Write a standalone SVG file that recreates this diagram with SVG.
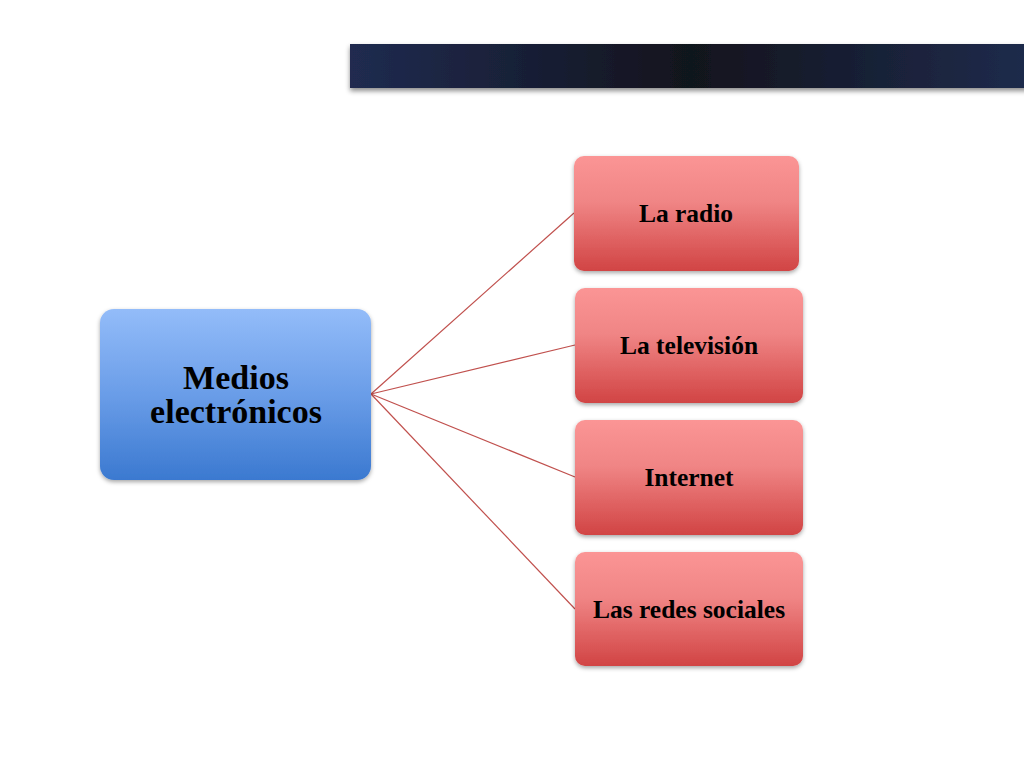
<svg xmlns="http://www.w3.org/2000/svg" width="1024" height="768" viewBox="0 0 1024 768">
<defs>
<linearGradient id="bar" x1="0" y1="0" x2="1" y2="0">
<stop offset="0" stop-color="#202b50"/>
<stop offset="0.5" stop-color="#11141d"/>
<stop offset="1" stop-color="#1f2b4c"/>
</linearGradient>
<linearGradient id="blue" x1="0" y1="0" x2="0" y2="1">
<stop offset="0" stop-color="#93bcf9"/>
<stop offset="0.5" stop-color="#6a9de8"/>
<stop offset="1" stop-color="#3b79d0"/>
</linearGradient>
<linearGradient id="red" x1="0" y1="0" x2="0" y2="1">
<stop offset="0" stop-color="#fb9595"/>
<stop offset="0.4" stop-color="#f08585"/>
<stop offset="1" stop-color="#d14444"/>
</linearGradient>
<filter id="sh" x="-10%" y="-10%" width="120%" height="130%">
<feDropShadow dx="0" dy="2" stdDeviation="2" flood-color="#000" flood-opacity="0.35"/>
</filter>
<filter id="barsh" x="-5%" y="-20%" width="110%" height="160%">
<feDropShadow dx="0" dy="3" stdDeviation="2.5" flood-color="#000" flood-opacity="0.45"/>
</filter>
</defs>
<style>
.t{font-family:"Liberation Serif","Times New Roman",serif;font-weight:bold;fill:#000;text-anchor:middle}
.s{font-size:25.5px}
.b{font-size:34px}
.c{stroke:#c0504d;stroke-width:1.2;fill:none}
</style>
<rect width="1024" height="768" fill="#ffffff"/>
<rect x="350" y="44" width="680" height="44" fill="url(#bar)" filter="url(#barsh)"/>
<g id="connectors">
<line class="c" x1="371" y1="394" x2="574" y2="213"/>
<line class="c" x1="371" y1="394" x2="575" y2="345"/>
<line class="c" x1="371" y1="394" x2="575" y2="477"/>
<line class="c" x1="371" y1="394" x2="575" y2="609"/>
</g>
<g id="medios">
<rect x="100" y="309" width="271" height="171" rx="14" fill="url(#blue)" filter="url(#sh)"/>
<text class="t b" x="236" y="389">Medios</text>
<text class="t b" x="236" y="423">electrónicos</text>
</g>
<g id="radio">
<rect x="574" y="156" width="225" height="115" rx="10" fill="url(#red)" filter="url(#sh)"/>
<text class="t s" x="686" y="222">La radio</text>
</g>
<g id="television">
<rect x="575" y="288" width="228" height="115" rx="10" fill="url(#red)" filter="url(#sh)"/>
<text class="t s" x="689" y="354">La televisión</text>
</g>
<g id="internet">
<rect x="575" y="420" width="228" height="115" rx="10" fill="url(#red)" filter="url(#sh)"/>
<text class="t s" x="689" y="486">Internet</text>
</g>
<g id="redes">
<rect x="575" y="552" width="228" height="114" rx="10" fill="url(#red)" filter="url(#sh)"/>
<text class="t s" x="689" y="618">Las redes sociales</text>
</g>
</svg>
